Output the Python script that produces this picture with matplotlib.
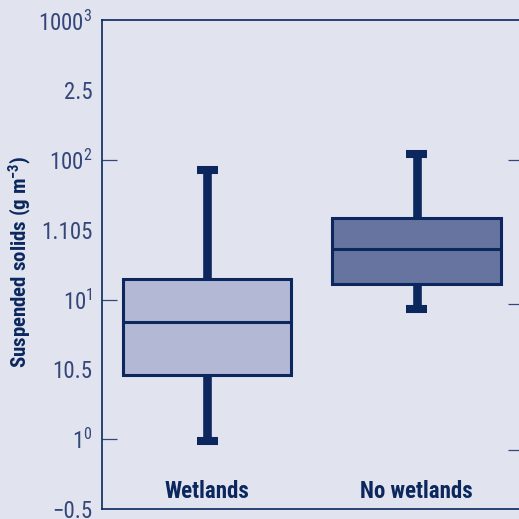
import matplotlib
matplotlib.use("Agg")
import matplotlib.pyplot as plt
from matplotlib import font_manager

# suspended solids, log10 units
groups = ["Wetlands", "No wetlands"]
whislo = [-0.01, 0.933]
q1 = [0.460, 1.112]
med = [0.838, 1.365]
q3 = [1.148, 1.585]
whishi = [1.925, 2.039]

ytick_vals = [-0.5, 0, 0.5, 1, 1.5, 2, 2.5, 3]
ytick_labels = ["\u22120.5", r"$\mathregular{1^0}$", "10.5", r"$\mathregular{10^1}$",
                "1.105", r"$\mathregular{100^2}$", "2.5", r"$\mathregular{1000^3}$"]
right_ticks = [2.0, 0.967, -0.077]

bg = "#e1e4ee"
navy = "#0b275e"
tickcol = "#34467a"
fills = ["#b3b8d4", "#66749f"]

# prefer a condensed face when one is available
installed = {f.name for f in font_manager.fontManager.ttflist}
if "Liberation Sans Narrow" in installed:
    fam, k = "Liberation Sans Narrow", 1.0
elif "Roboto Condensed" in installed:
    fam, k = "Roboto Condensed", 1.0
else:
    fam, k = "Liberation Sans", 0.84
plt.rcParams["font.family"] = [fam, "DejaVu Sans"]
plt.rcParams["mathtext.default"] = "regular"

W = 519
fig = plt.figure(figsize=(5.19, 5.19), dpi=100, facecolor=bg)
ax = fig.add_axes([102.3 / W, 10 / W, (521.5 - 102.3) / W, (509 - 20.3) / W])
ax.set_facecolor(bg)

stats = []
for i in range(len(groups)):
    stats.append(dict(med=med[i], q1=q1[i], q3=q3[i], whislo=whislo[i],
                      whishi=whishi[i], fliers=[], label=groups[i]))

bp = ax.bxp(stats, positions=[1, 2], widths=0.805, capwidths=0.1,
            patch_artist=True, showfliers=False,
            boxprops=dict(edgecolor=navy, linewidth=2.2),
            medianprops=dict(color=navy, linewidth=2.2),
            whiskerprops=dict(color=navy, linewidth=6.2, solid_capstyle="butt"),
            capprops=dict(color=navy, linewidth=5.8, solid_capstyle="butt"))
for patch, c in zip(bp["boxes"], fills):
    patch.set_facecolor(c)
    patch.set_zorder(2)

ax.set_xlim(0.5, 2.5)
ax.set_ylim(-0.5, 3)

# group names sit inside the plot area, above the bottom spine
ax.set_xticks([])
for pos, name in zip([1, 2], groups):
    ax.text(pos, -0.418, name, ha="center", va="baseline", fontsize=16.5 * k,
            fontweight="bold", color=navy)

ax.set_yticks(ytick_vals)
ax.set_yticklabels(ytick_labels)
ax.tick_params(axis="y", which="major", length=0, pad=7, labelsize=16.5 * k,
               labelcolor=tickcol)
ax.yaxis.remove_overlapping_locs = False
ax.set_yticks([0, 1, 2], minor=True)
ax.tick_params(axis="y", which="minor", direction="in", length=10.8,
               width=0.9, color=tickcol)

for s in ["left", "top", "bottom"]:
    ax.spines[s].set_color(navy)
    ax.spines[s].set_linewidth(1.2)
ax.spines["right"].set_visible(False)

ax2 = ax.twinx()
ax2.set_ylim(-0.5, 3)
ax2.set_yticks(right_ticks)
ax2.set_yticklabels([])
ax2.tick_params(axis="y", direction="in", length=10.4, width=0.9, color=tickcol)
for s in ax2.spines.values():
    s.set_visible(False)

fig.text(20 / W, 1 - 261.5 / W, r"Suspended solids (g m$^{-3}$)", rotation=90,
         ha="center", va="center", fontsize=15 * k, fontweight="bold", color=navy)

fig.savefig("out.png", dpi=100, facecolor=bg)
